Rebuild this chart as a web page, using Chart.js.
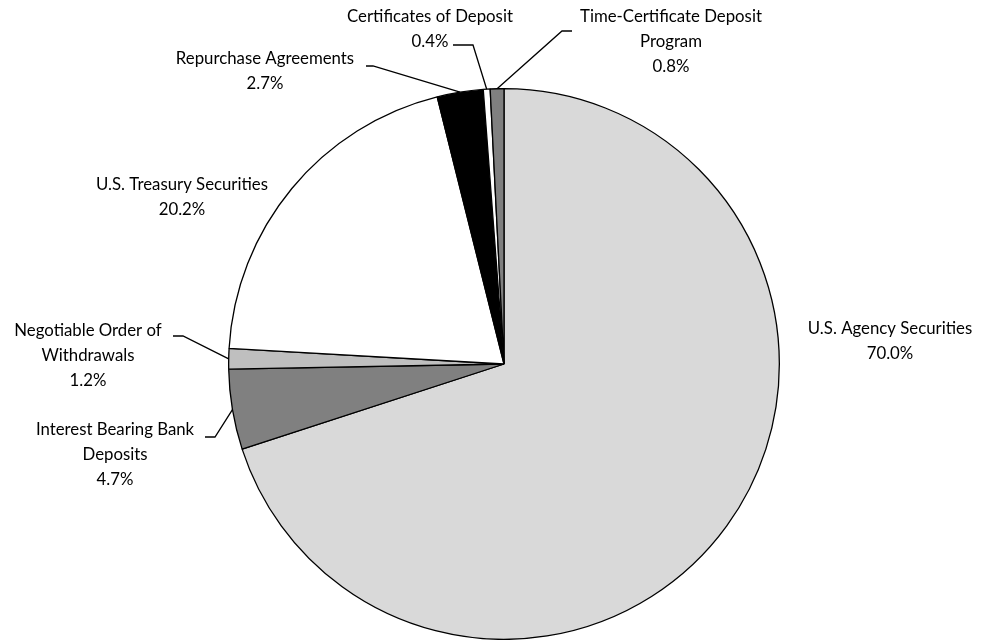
<!DOCTYPE html>
<html>
<head>
<meta charset="utf-8">
<script src="https://cdn.jsdelivr.net/npm/chart.js@4.4.0/dist/chart.umd.min.js"></script>
<style>
  html, body { margin: 0; padding: 0; background: #fff; }
</style>
</head>
<body>
<canvas id="chart" width="983" height="640"></canvas>
<script>
const categories = [
  "U.S. Agency Securities",
  "Interest Bearing Bank\nDeposits",
  "Negotiable Order of\nWithdrawals",
  "U.S. Treasury Securities",
  "Repurchase Agreements",
  "Certificates of Deposit",
  "Time-Certificate Deposit\nProgram"
];
const values = [70.0, 4.7, 1.2, 20.2, 2.7, 0.4, 0.8];
const sliceColors = ["#d9d9d9", "#808080", "#bfbfbf", "#ffffff", "#000000", "#ffffff", "#808080"];

// where each label sits (center of first line) and how its leader line bends
const labelLayout = [
  { x: 890, y: 329, leader: null },
  { x: 115, y: 430, leader: [[215, 437], [205, 437]] },
  { x: 88,  y: 331, leader: [[183, 336], [173, 336]] },
  { x: 182, y: 185, leader: null },
  { x: 265, y: 59,  leader: [[373, 66], [366, 66]] },
  { x: 430, y: 17,  leader: [[473, 45], [453, 45]] },
  { x: 671, y: 17,  leader: [[562, 31], [572, 31]] }
];

const FONT = "16.8px Lato, 'Open Sans', sans-serif";
const LINE_H = 25;

const pieLabels = {
  id: "pieLabels",
  afterDraw(chart) {
    const ctx = chart.ctx;
    const arcs = chart.getDatasetMeta(0).data;
    ctx.save();
    ctx.strokeStyle = "#000";
    ctx.lineWidth = 1.3;
    arcs.forEach((arc, i) => {
      const lay = labelLayout[i];
      const p = arc.getProps(["x", "y", "startAngle", "endAngle", "outerRadius"], true);
      const mid = (p.startAngle + p.endAngle) / 2;
      if (lay.leader) {
        ctx.beginPath();
        ctx.moveTo(p.x + Math.cos(mid) * p.outerRadius, p.y + Math.sin(mid) * p.outerRadius);
        lay.leader.forEach(pt => ctx.lineTo(pt[0], pt[1]));
        ctx.stroke();
      }
      const lines = categories[i].split("\n").concat([values[i].toFixed(1) + "%"]);
      ctx.fillStyle = "#000";
      ctx.font = FONT;
      ctx.textAlign = "center";
      ctx.textBaseline = "middle";
      lines.forEach((t, k) => ctx.fillText(t, lay.x, lay.y + k * LINE_H));
    });
    ctx.restore();
  }
};

new Chart(document.getElementById("chart"), {
  type: "pie",
  data: {
    labels: categories,
    datasets: [{
      data: values,
      backgroundColor: sliceColors,
      borderColor: "#000",
      borderWidth: 1.3
    }]
  },
  options: {
    responsive: false,
    animation: false,
    layout: { padding: { top: 88, bottom: 0, left: 100, right: 75 } },
    plugins: {
      legend: { display: false },
      tooltip: { enabled: false }
    }
  },
  plugins: [pieLabels]
});
</script>
</body>
</html>
